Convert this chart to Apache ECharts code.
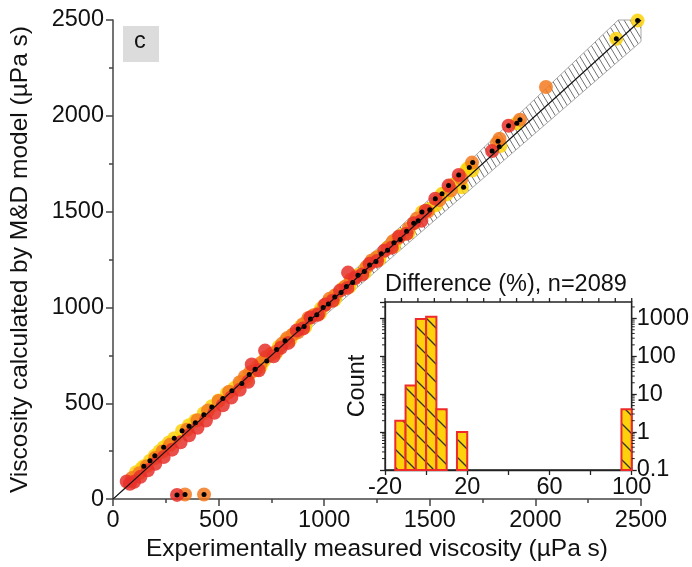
<!DOCTYPE html>
<html>
<head>
<meta charset="utf-8">
<script src="https://cdn.jsdelivr.net/npm/echarts@6/dist/echarts.min.js"></script>
<style>
html,body{margin:0;padding:0;background:#fff}
#chart{width:692px;height:567px}
</style>
</head>
<body>
<div id="chart"></div>
<script>
// measured (x) vs model (y), uPa s
var redPts = [[65,92],[80,80],[100,90],[130,116],[165,150],[200,184],[240,220],[280,258],[303,22],[320,296],[360,333],[400,372],[440,410],[480,450],[520,490],[560,530],[600,570],[640,612],[657,703],[690,672],[720,775],[760,745],[795,790],[830,815],[870,880],[900,890],[935,948],[970,962],[1005,1015],[1040,1035],[1075,1088],[1110,1102],[1113,1182],[1145,1152],[1180,1172],[1215,1228],[1250,1242],[1285,1296],[1320,1312],[1355,1370],[1390,1385],[1425,1440],[1460,1452],[1480,1505],[1526,1567],[1589,1636],[1637,1691],[1795,1816],[1873,1948]];
var orangePts = [[90,110],[125,135],[160,172],[200,215],[235,248],[270,283],[341,24],[431,24],[350,362],[400,412],[450,462],[500,512],[550,560],[600,610],[625,640],[650,662],[675,672],[700,710],[725,742],[750,758],[775,770],[800,810],[825,840],[850,858],[875,870],[900,912],[925,945],[950,960],[975,970],[1000,1010],[1025,1045],[1050,1062],[1100,1110],[1125,1145],[1150,1160],[1200,1212],[1225,1245],[1250,1262],[1300,1310],[1325,1345],[1350,1362],[1400,1412],[1439,1464],[1490,1500],[1545,1560],[1600,1612],[1650,1672],[1700,1756],[1818,1859],[1830,1880],[1927,1980],[2050,2150]];
var yellowPts = [[110,140],[135,160],[146,172],[175,200],[198,226],[220,250],[240,271],[265,295],[290,318],[327,357],[360,385],[390,410],[430,448],[468,485],[500,515],[540,552],[575,580],[610,612],[630,622],[645,652],[680,690],[700,692],[715,722],[750,756],[770,760],[785,795],[820,830],[840,832],[855,860],[890,902],[910,898],[920,930],[955,960],[980,968],[985,995],[1020,1030],[1050,1040],[1055,1058],[1090,1100],[1120,1108],[1125,1132],[1160,1170],[1190,1180],[1195,1200],[1230,1240],[1260,1250],[1265,1270],[1300,1312],[1330,1318],[1335,1342],[1370,1380],[1400,1390],[1424,1439],[1463,1498],[1500,1515],[1530,1535],[1558,1593],[1580,1590],[1610,1640],[1652,1627],[1676,1722],[1687,1730],[1701,1715],[1834,1842],[1912,1961],[2383,2402],[2484,2497]];
var blackPts = [[146,172],[175,200],[198,226],[240,271],[290,318],[327,357],[360,380],[390,398],[430,440],[468,480],[520,525],[563,566],[610,603],[645,650],[673,677],[728,720],[775,780],[815,826],[877,887],[905,900],[935,940],[965,962],[995,1000],[1020,1018],[1050,1055],[1080,1078],[1105,1110],[1135,1130],[1160,1168],[1190,1188],[1215,1222],[1245,1240],[1270,1280],[1300,1298],[1330,1338],[1360,1355],[1390,1398],[1424,1439],[1445,1452],[1463,1498],[1500,1510],[1526,1567],[1558,1593],[1589,1636],[1637,1691],[1660,1627],[1687,1730],[1703,1756],[1795,1816],[1823,1867],[1829,1838],[1873,1948],[1912,1961],[1927,1980],[2383,2402],[2484,2497],[303,22],[341,24],[431,24]];
var diagLine = [[0,0],[2500,2500]];
var bandPct = 4.5;

// histogram of difference (%)
var binStart = [-15,-10,-5,0,5,15,95];
var binCount = [2,17,960,1101,4,1,4];
var binWidth = 5;
var histTitle = 'Difference (%), n=2089';
var histMin = -20, histMax = 100, topTickStep = 8;
var countMin = 0.1, countMax = 2700;

var byId = function(id){ return document.getElementById(id); };

var hatch = function(w, h, bg, fg, lw){
	var c = document.createElement('canvas');
	c.width = w; c.height = h;
	var g = c.getContext('2d');
	g.fillStyle = bg; g.fillRect(0, 0, w, h);
	g.strokeStyle = fg; g.lineWidth = lw;
	for(var k=-1;k<=1;k++){
		g.beginPath();
		g.moveTo(k*w - w, -h);
		g.lineTo(k*w + 2*w, 2*h);
		g.stroke();
	}
	return c;
};
var bandFill = {image: hatch(6, 10, '#fff', '#707070', 1), repeat: 'repeat'};
var barFill = {image: hatch(18, 18, '#fdd20c', '#333', 1.3), repeat: 'repeat'};

var axisColor = '#444';
var font = 'Liberation Sans, Arial, sans-serif';
var fs = 23.5;

var minorVals = [];
[0.1,1,10,100,1000].forEach(function(d){
	for(var m=2;m<=9;m++){ if(d*m <= countMax) minorVals.push(d*m); }
});
var topTicks = [];
for(var t=histMin; t<=histMax; t+=topTickStep){ topTicks.push(t); }

var mainAxis = function(name, gap){
	return {
		type: 'value', gridIndex: 0, min: 0, max: 2500, interval: 500,
		name: name, nameLocation: 'middle', nameGap: gap,
		nameTextStyle: {fontSize: 24.5, color: '#111', fontFamily: font},
		axisLine: {onZero: false, lineStyle: {color: axisColor, width: 1.5}},
		axisTick: {length: 7, lineStyle: {color: axisColor, width: 1.5}},
		minorTick: {show: true, splitNumber: 2, length: 4, lineStyle: {color: axisColor, width: 1.5}},
		splitLine: {show: false},
		axisLabel: {fontSize: fs, color: '#111', margin: 9, fontFamily: font,
			formatter: function(v){ return String(v); }}
	};
};

var scatter = function(data, color, size){
	return {
		type: 'scatter', xAxisIndex: 0, yAxisIndex: 0, data: data,
		symbolSize: size, silent: true,
		itemStyle: {color: color, opacity: size > 8 ? 0.85 : 1}
	};
};

var chart = echarts.init(byId('chart'), null, {renderer: 'canvas'});
chart.setOption({
	animation: false,
	textStyle: {fontFamily: font},
	grid: [
		{left: 111, right: 51, top: 20, bottom: 60},
		{left: 385, right: 56, top: 302, bottom: 97, show: true, borderColor: '#222', borderWidth: 1.3, backgroundColor: 'transparent'}
	],
	xAxis: [
		mainAxis('Experimentally measured viscosity (µPa s)', 31),
		{
			type: 'value', gridIndex: 1, min: histMin, max: histMax, interval: 20,
			axisLine: {onZero: false, lineStyle: {color: '#222', width: 1.3}},
			axisTick: {length: 5, lineStyle: {color: '#222', width: 1.3}},
			splitLine: {show: false},
			axisLabel: {fontSize: fs, color: '#111', margin: 6, fontFamily: font,
				formatter: function(v){ return (v + 20) % 40 === 0 ? String(v) : ''; }}
		}
	],
	yAxis: [
		mainAxis('Viscosity calculated by M&D model (µPa s)', 80),
		{
			type: 'log', gridIndex: 1, min: countMin, max: countMax, position: 'left',
			name: 'Count', nameLocation: 'middle', nameGap: 15,
			nameTextStyle: {fontSize: fs, color: '#111', fontFamily: font},
			axisLine: {onZero: false, lineStyle: {color: '#222', width: 1.3}},
			axisTick: {length: 5, lineStyle: {color: '#222', width: 1.3}},
			splitLine: {show: false}, axisLabel: {show: false}
		},
		{
			type: 'log', gridIndex: 1, min: countMin, max: countMax, position: 'right',
			axisLine: {onZero: false, lineStyle: {color: '#222', width: 1.3}},
			axisTick: {length: 5, lineStyle: {color: '#222', width: 1.3}},
			splitLine: {show: false},
			axisLabel: {fontSize: fs, color: '#111', margin: 5, fontFamily: font,
				formatter: function(v){ return String(v); }}
		}
	],
	graphic: [
		{type: 'rect', left: 123, top: 26, shape: {width: 36, height: 36}, style: {fill: '#dcdcdc'}, z: 10},
		{type: 'text', left: 134, top: 30, style: {text: 'c', fontSize: fs, fill: '#111', fontFamily: font}, z: 11},
		{type: 'text', left: 385, top: 273, style: {text: histTitle, fontSize: fs, fill: '#111', fontFamily: font}, z: 11}
	],
	series: [
		{
			type: 'custom', xAxisIndex: 0, yAxisIndex: 0, data: [0], silent: true, z: 1,
			renderItem: function(params, api){
				var k = bandPct / 100;
				var x1 = diagLine[1][0];
				var pts = [[0,0],[x1/(1+k), x1],[x1, x1],[x1, x1*(1-k)]].map(function(p){ return api.coord(p); });
				return {type: 'polygon', shape: {points: pts}, style: {fill: bandFill, stroke: '#a8a8a8', lineWidth: 1}};
			}
		},
		scatter(yellowPts, '#fdd20c', 14),
		scatter(orangePts, '#f47a20', 14),
		scatter(redPts, '#e8302a', 14),
		{
			type: 'line', xAxisIndex: 0, yAxisIndex: 0, data: diagLine, showSymbol: false, silent: true,
			lineStyle: {color: '#111', width: 1.2}, z: 3
		},
		scatter(blackPts, '#000', 5),
		{
			type: 'custom', xAxisIndex: 1, yAxisIndex: 1, silent: true, z: 4,
			data: binStart.map(function(s, i){ return [s, binCount[i]]; }),
			renderItem: function(params, api){
				var s = api.value(0), c = api.value(1);
				var a = api.coord([s, c]);
				var b = api.coord([s + binWidth, countMin]);
				return {type: 'rect', shape: {x: a[0], y: a[1], width: b[0] - a[0], height: b[1] - a[1]},
					style: {fill: barFill, stroke: '#ef2a2a', lineWidth: 2}};
			}
		},
		{
			// log minor ticks on both sides of the inset
			type: 'custom', xAxisIndex: 1, yAxisIndex: 1, silent: true, z: 4,
			data: minorVals.map(function(v){ return [histMin, v]; }),
			renderItem: function(params, api){
				var l = api.coord([histMin, api.value(1)]);
				var r = api.coord([histMax, api.value(1)]);
				return {type: 'group', children: [
					{type: 'line', shape: {x1: l[0] - 3, y1: l[1], x2: l[0], y2: l[1]}, style: {stroke: '#222', lineWidth: 1}},
					{type: 'line', shape: {x1: r[0], y1: r[1], x2: r[0] + 3, y2: r[1]}, style: {stroke: '#222', lineWidth: 1}}
				]};
			}
		},
		{
			// ticks on the top frame of the inset
			type: 'custom', xAxisIndex: 1, yAxisIndex: 1, silent: true, z: 4, clip: false,
			data: topTicks.map(function(v){ return [v, countMax]; }),
			renderItem: function(params, api){
				var p = api.coord([api.value(0), countMax]);
				return {type: 'line', shape: {x1: p[0], y1: p[1], x2: p[0], y2: p[1] - 4}, style: {stroke: '#222', lineWidth: 1.3}};
			}
		}
	]
});
</script>
</body>
</html>
